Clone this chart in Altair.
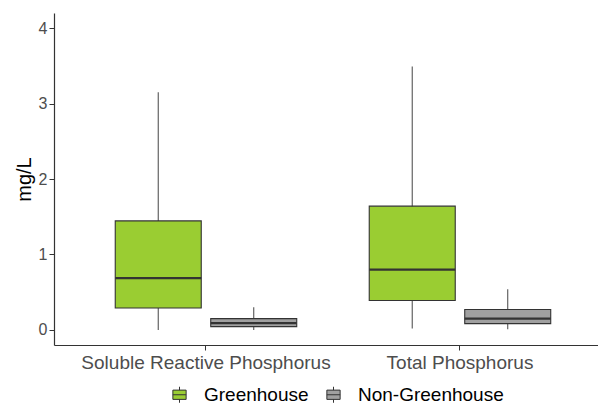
import altair as alt
import pandas as pd

parameters = ["Soluble Reactive Phosphorus", "Soluble Reactive Phosphorus",
              "Total Phosphorus", "Total Phosphorus"]
groups = ["Greenhouse", "Non-Greenhouse", "Greenhouse", "Non-Greenhouse"]
lower = [0.0, 0.0, 0.02, 0.01]
q1 = [0.29, 0.044, 0.39, 0.083]
median = [0.685, 0.089, 0.80, 0.15]
q3 = [1.445, 0.15, 1.64, 0.27]
upper = [3.15, 0.30, 3.49, 0.54]

param_order = ["Soluble Reactive Phosphorus", "Total Phosphorus"]
group_order = ["Greenhouse", "Non-Greenhouse"]
fill_colors = ["#9ACD32", "#A0A0A0"]
y_ticks = [0, 1, 2, 3, 4]

df = pd.DataFrame({
    "parameter": parameters, "group": groups, "lower": lower, "q1": q1,
    "median": median, "q3": q3, "upper": upper,
})

FONT = "Liberation Sans"
yscale = alt.Scale(domain=[-0.2, 4.2], nice=False, zero=False)

base = alt.Chart(df).encode(
    x=alt.X("parameter:N", sort=param_order,
            scale=alt.Scale(paddingInner=0, paddingOuter=0.0709, align=0.694),
            axis=alt.Axis(title=None, labelAngle=0, labelFontSize=19,
                          labelColor="#4D4D4D", labelFont=FONT, labelPadding=3,
                          labelLimit=400,
                          domainColor="#333333", domainWidth=1.2,
                          tickColor="#333333", tickSize=5, tickWidth=1)),
    xOffset=alt.XOffset("group:N", sort=group_order,
                        scale=alt.Scale(paddingInner=0, paddingOuter=0.33)),
)

whisker = base.mark_rule(color="#555555", strokeWidth=1.1).encode(
    y=alt.Y("lower:Q", scale=yscale,
            axis=alt.Axis(title="mg/L", values=y_ticks, format="d", grid=False,
                          labelFontSize=16, labelColor="#4D4D4D", labelFont=FONT,
                          labelPadding=2, titleFont=FONT, titleFontSize=20,
                          titleColor="black", titleFontWeight="normal",
                          titlePadding=4, domainColor="#333333", domainWidth=1.2,
                          tickColor="#333333", tickSize=5, tickWidth=1)),
    y2="upper:Q",
)

box = base.mark_bar(size=86, stroke="#333333", strokeWidth=1.1).encode(
    y=alt.Y("q1:Q", scale=yscale),
    y2="q3:Q",
    fill=alt.Fill("group:N", sort=group_order,
                  scale=alt.Scale(domain=group_order, range=fill_colors),
                  legend=alt.Legend(
                      title=None, orient="none", direction="horizontal",
                      legendX=116, legendY=372, padding=0,
                      symbolType="M-0.83,-0.58H0.83V0.58H-0.83Z M-0.83,0H0.83 M0,-1V-0.58 M0,0.58V1",
                      symbolSize=256, symbolStrokeColor="#333333",
                      symbolStrokeWidth=1, symbolOpacity=1,
                      labelFontSize=19, labelFont=FONT, labelColor="black",
                      labelOffset=15, columnPadding=15)),
)

med = base.mark_tick(size=86, thickness=2.2, color="#333333", opacity=1).encode(
    y=alt.Y("median:Q", scale=yscale),
)

chart = alt.layer(whisker, box, med).properties(
    width=544, height=332,
    autosize=alt.AutoSizeParams(type="none"),
    padding={"left": 46, "top": 5, "right": 0, "bottom": 61},
    background="white",
).configure_view(stroke=None)

chart.save("out.html", embed_options={"renderer": "svg", "actions": False})
